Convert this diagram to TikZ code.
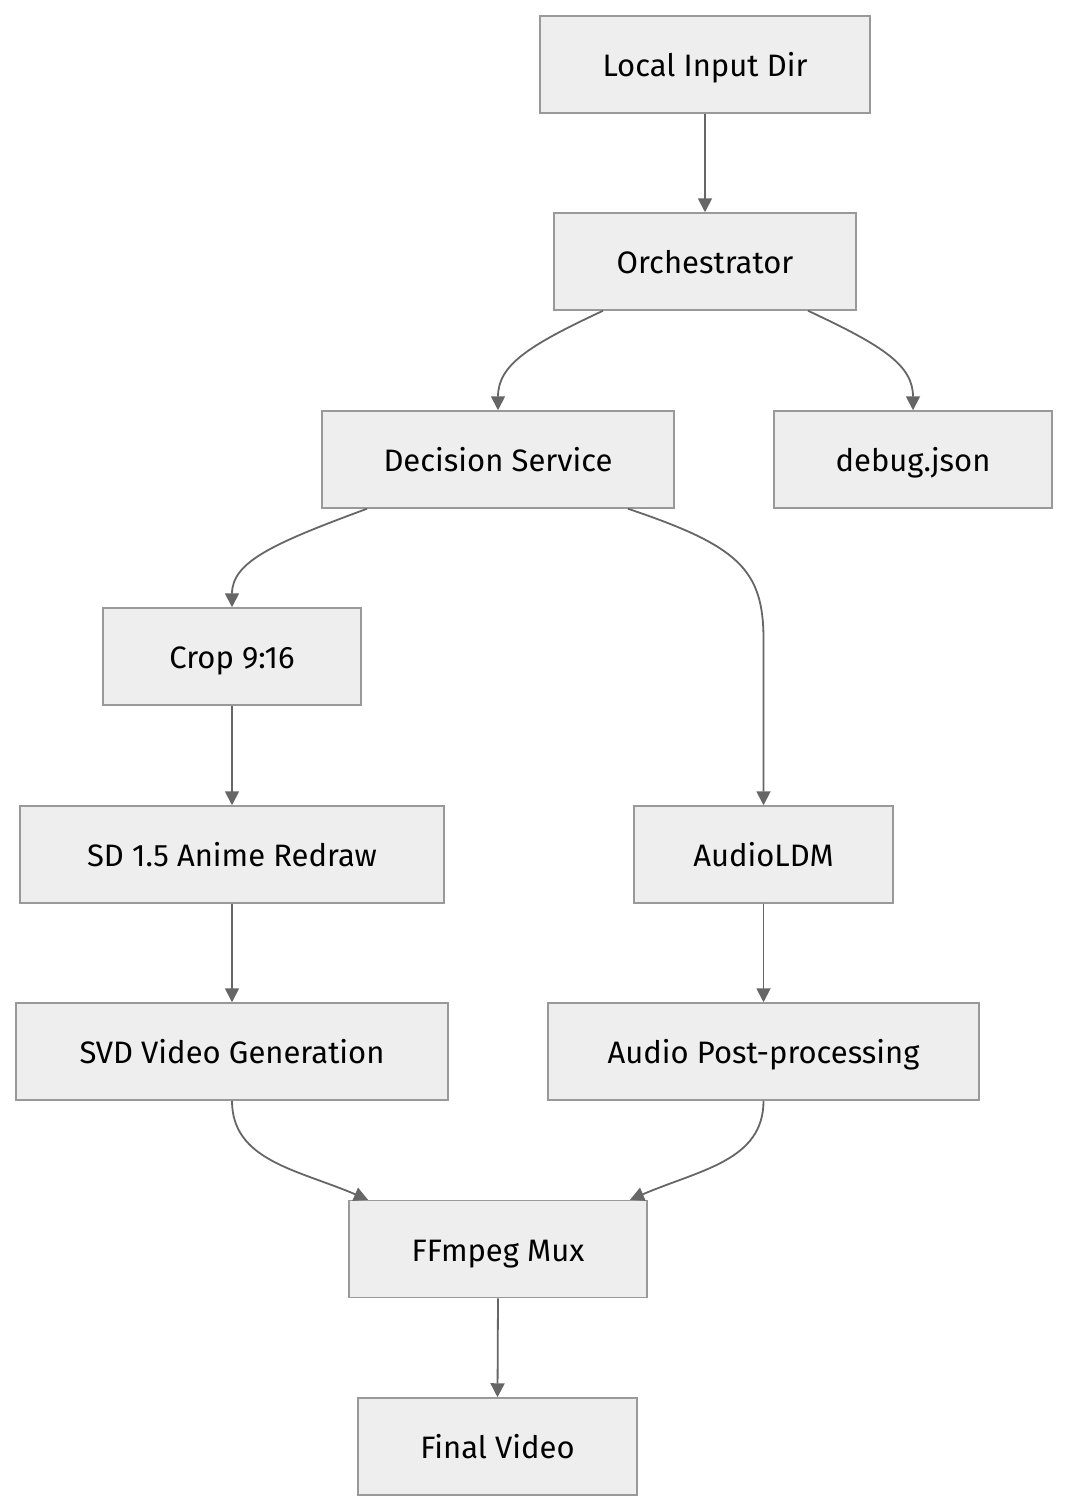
\documentclass[tikz,border=0pt]{standalone}
\usepackage{fontspec}
\setmainfont{Fira Sans}
\usetikzlibrary{arrows.meta}
\definecolor{boxfill}{HTML}{EEEEEE}
\definecolor{boxline}{HTML}{999999}
\definecolor{edgecol}{HTML}{666666}
\tikzset{
  box/.style={draw=boxline, fill=boxfill, line width=1.5pt, inner sep=0pt, text height=30.5pt, text depth=6pt, font=\fontsize{31}{37}\selectfont},
  edge/.style={draw=edgecol, line width=1.8pt, -{Triangle[length=14pt,width=14pt]}},
}
\begin{document}
\begin{tikzpicture}[x=1pt,y=-1pt]
\useasboundingbox (0,0) rectangle (1068,1512);
\node[box, minimum width=330pt, minimum height=97pt] (L) at (705,64.5) {Local Input Dir};
\node[box, minimum width=302pt, minimum height=97pt] (O) at (705,261.5) {Orchestrator};
\node[box, minimum width=352pt, minimum height=97pt] (D) at (498,459.5) {Decision Service};
\node[box, minimum width=278pt, minimum height=97pt] (J) at (913,459.5) {debug.json};
\node[box, minimum width=258pt, minimum height=97pt] (C) at (232,656.5) {Crop 9:16};
\node[box, minimum width=424pt, minimum height=97pt] (S) at (232,854.5) {SD 1.5 Anime Redraw};
\node[box, minimum width=259pt, minimum height=97pt] (A) at (763.5,854.5) {AudioLDM};
\node[box, minimum width=432pt, minimum height=97pt] (V) at (232,1051.5) {SVD Video Generation};
\node[box, minimum width=431pt, minimum height=97pt] (P) at (763.5,1051.5) {Audio Post-processing};
\node[box, minimum width=298pt, minimum height=97pt] (F) at (498,1249) {FFmpeg Mux};
\node[box, minimum width=279pt, minimum height=97pt] (X) at (497.5,1446.5) {Final Video};

\draw[edge] (L.south) -- (O.north);
\draw[edge] ([xshift=-102pt]O.south) .. controls +(-75,35) and +(0,-45) .. (D.north);
\draw[edge] ([xshift=103pt]O.south) .. controls +(75,35) and +(0,-45) .. (J.north);
\draw[edge] ([xshift=-131pt]D.south) .. controls +(-95,35) and +(0,-45) .. (C.north);
\draw[edge] ([xshift=130pt]D.south) .. controls +(110,37) and +(0,-70) .. ([yshift=166pt]A.north) -- (A.north);
\draw[edge] (C.south) -- (S.north);
\draw[edge] (S.south) -- (V.north);
\draw[edge] (A.south) -- (P.north);
\draw[edge] (V.south) .. controls +(0,60) and +(-70,-30) .. ([xshift=-130pt]F.north);
\draw[edge] (P.south) .. controls +(0,60) and +(70,-30) .. ([xshift=132pt]F.north);
\draw[edge] (F.south) -- (X.north);
\end{tikzpicture}
\end{document}
